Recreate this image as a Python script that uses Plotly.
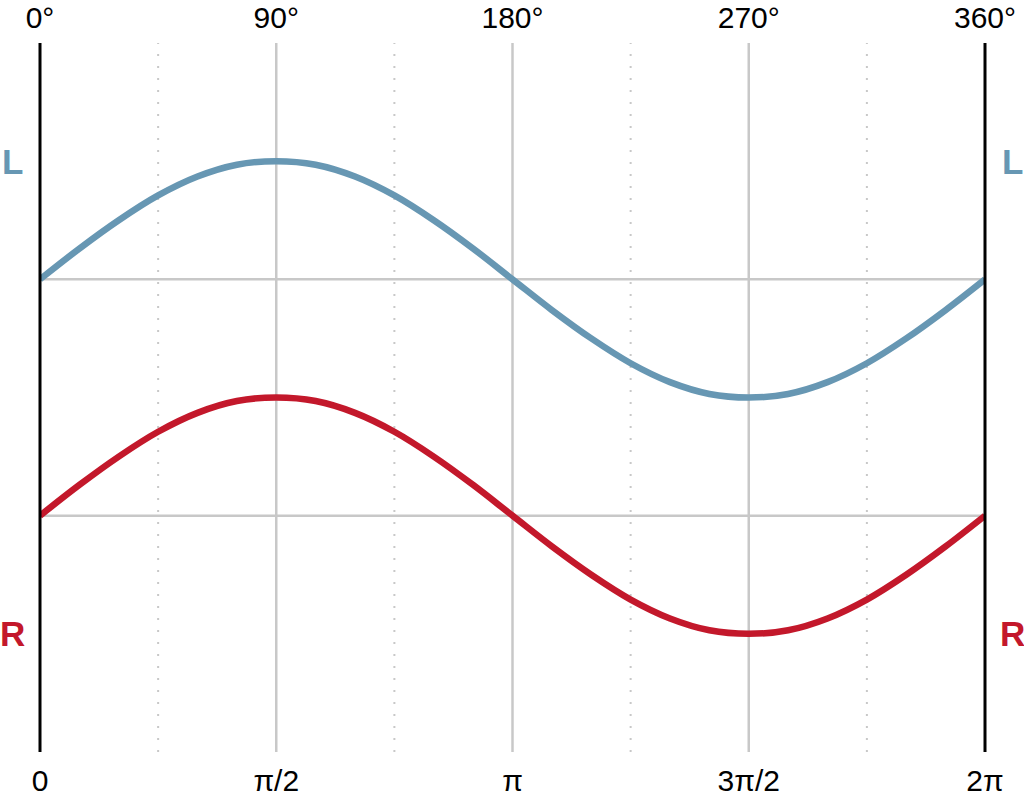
import plotly.graph_objects as go

# phase angle in degrees, sampled every 15 deg
angle_deg = [0, 15, 30, 45, 60, 75, 90, 105, 120, 135, 150, 165, 180,
             195, 210, 225, 240, 255, 270, 285, 300, 315, 330, 345, 360]

# channel values (L centred on +1, R centred on -1)
left_ch = [1.00, 1.26, 1.50, 1.71, 1.87, 1.97, 2.00, 1.97, 1.87, 1.71, 1.50, 1.26, 1.00,
           0.74, 0.50, 0.29, 0.13, 0.03, 0.00, 0.03, 0.13, 0.29, 0.50, 0.74, 1.00]
right_ch = [-1.00, -0.74, -0.50, -0.29, -0.13, -0.03, 0.00, -0.03, -0.13, -0.29, -0.50, -0.74, -1.00,
            -1.26, -1.50, -1.71, -1.87, -1.97, -2.00, -1.97, -1.87, -1.71, -1.50, -1.26, -1.00]
baselines = [1.0, -1.0]

major_ticks = [0, 90, 180, 270, 360]
deg_labels = ["0°", "90°", "180°", "270°", "360°"]
rad_labels = ["0", "π/2", "π", "3π/2", "2π"]
minor_ticks = [45, 135, 225, 315]

_COLORS = {"L": "#6797b3", "R": "#c3182b", "grid": "#c8c8c8", "edge": "#000000"}
FONT = "Helvetica, Arial, Liberation Sans, sans-serif"

fig = go.Figure()

fig.add_trace(go.Scatter(x=angle_deg, y=left_ch, mode="lines", line_shape="spline",
                         line=dict(color=_COLORS["L"], width=6.5), name="L"))
fig.add_trace(go.Scatter(x=angle_deg, y=right_ch, mode="lines", line_shape="spline",
                         line=dict(color=_COLORS["R"], width=6.5), name="R"))
# invisible trace to carry the top (degree) axis
fig.add_trace(go.Scatter(x=[0, 360], y=[0, 0], mode="lines", line=dict(width=0),
                         xaxis="x2", hoverinfo="skip", showlegend=False))

shapes = []
for t in major_ticks[1:-1]:
    shapes.append(dict(type="line", xref="x", yref="paper", x0=t, x1=t, y0=0, y1=1,
                       line=dict(color=_COLORS["grid"], width=2.5), layer="below"))
for t in minor_ticks:
    shapes.append(dict(type="line", xref="x", yref="paper", x0=t, x1=t, y0=0, y1=1,
                       line=dict(color=_COLORS["grid"], width=2, dash="2px,10px"), layer="below"))
for b in baselines:
    shapes.append(dict(type="line", xref="x", yref="y", x0=0, x1=360, y0=b, y1=b,
                       line=dict(color=_COLORS["grid"], width=2.5), layer="below"))
# black edge lines at 0 and 2pi (paper refs so they are not clipped in half)
for xp in (0, 1):
    shapes.append(dict(type="line", xref="paper", yref="paper", x0=xp, x1=xp, y0=0, y1=1,
                       line=dict(color=_COLORS["edge"], width=3), layer="above"))

# channel labels on both sides
annotations = []
for name, yv in (("L", 2.0), ("R", -2.0)):
    for xp in (-0.0295, 1.029):
        annotations.append(dict(xref="paper", yref="y", x=xp, y=yv, text=f"<b>{name}</b>",
                                showarrow=False, xanchor="center", yanchor="middle",
                                font=dict(family=FONT, size=35, color=_COLORS[name])))

_ax = dict(range=[0, 360], showgrid=False, zeroline=False, showline=False, ticks="",
           automargin=False, tickvals=major_ticks,
           tickfont=dict(family=FONT, size=30, color="#000"))
fig.update_layout(
    xaxis=dict(ticktext=rad_labels, ticklabelstandoff=8, **_ax),
    xaxis2=dict(ticktext=deg_labels, overlaying="x", side="top", ticklabelstandoff=8, **_ax),
    yaxis=dict(range=[-3, 3], showgrid=False, zeroline=False, showticklabels=False,
               automargin=False),
    shapes=shapes,
    annotations=annotations,
    showlegend=False,
    plot_bgcolor="white",
    paper_bgcolor="white",
    width=1024,
    height=805,
    margin=dict(l=40, r=39, t=43, b=53),
)

fig.write_html("out.html", config={"displayModeBar": False},
               post_script="document.body.style.margin='0';")
